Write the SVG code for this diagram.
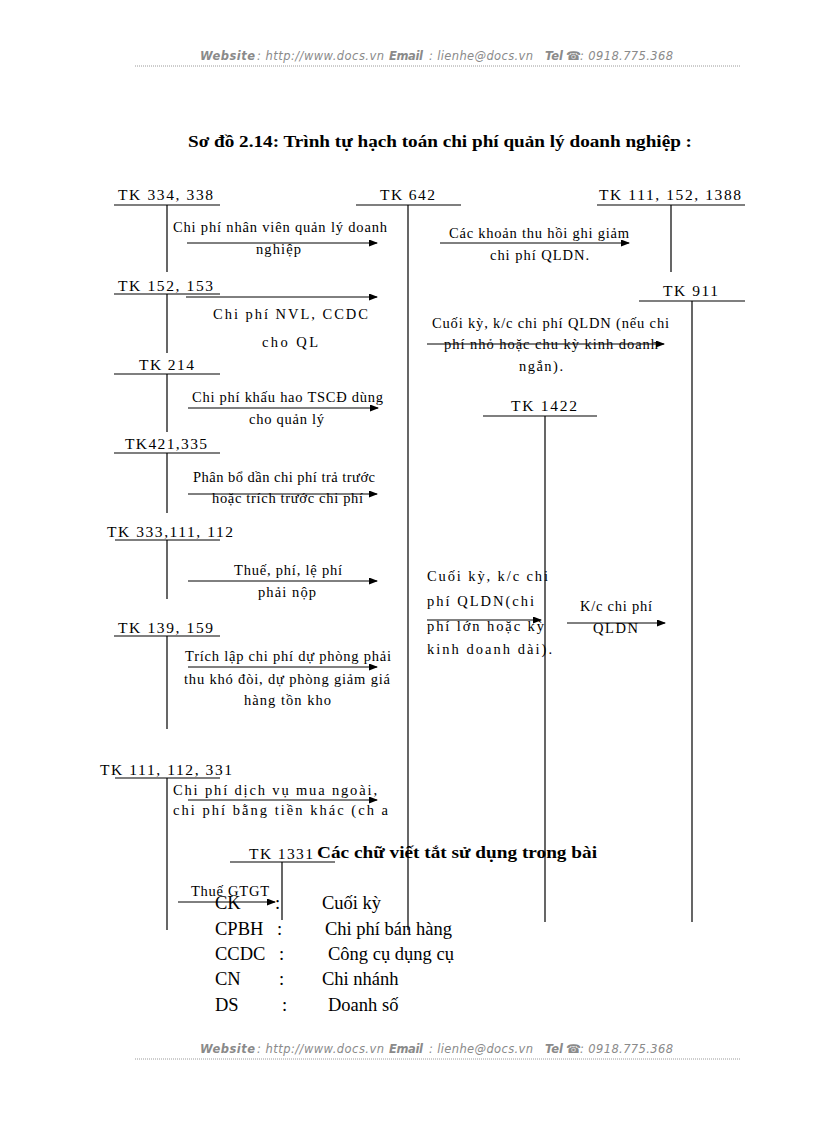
<svg xmlns="http://www.w3.org/2000/svg" width="816" height="1123" viewBox="0 0 816 1123">
<style>
.hd{font-family:"DejaVu Sans",Verdana,sans-serif;font-style:italic;font-size:11.5px;fill:#8a8a8a}
.hb{font-weight:bold}
.hl{stroke:#9a9a9a;stroke-width:1;stroke-dasharray:1 1}
.ttl{font-family:"Liberation Serif","Times New Roman",serif;font-weight:bold;font-size:17px;fill:#000}
.tk{font-family:"Liberation Serif","Times New Roman",serif;font-size:15.5px;fill:#000}
.d{font-family:"Liberation Serif","Times New Roman",serif;font-size:14.5px;fill:#000}
.lg{font-family:"Liberation Serif","Times New Roman",serif;font-size:18.5px;fill:#000}
.ln{stroke:#000;stroke-width:1.2;fill:none}
.ar{stroke:#000;stroke-width:1;fill:none;marker-end:url(#ah)}
</style>
<defs>
<marker id="ah" markerWidth="9" markerHeight="7" refX="8" refY="3.5" orient="auto" markerUnits="userSpaceOnUse">
<path d="M0,0 L9,3.5 L0,7 Z" fill="#000"/>
</marker>
</defs>
<rect width="816" height="1123" fill="#fff"/>

<g id="header">
<text class="hd" y="60"><tspan x="200" class="hb" textLength="55">Website</tspan><tspan x="257" textLength="127">: http://www.docs.vn</tspan><tspan x="389" class="hb" textLength="34">Email</tspan><tspan x="429" textLength="104">: lienhe@docs.vn</tspan><tspan x="545" class="hb" textLength="18">Tel</tspan><tspan x="566" style="font-style:normal;font-size:12px">☎</tspan><tspan x="580" textLength="93">: 0918.775.368</tspan></text>
<line class="hl" x1="135" y1="66" x2="741" y2="66"/>
</g>
<g id="footer">
<text class="hd" y="1053"><tspan x="200" class="hb" textLength="55">Website</tspan><tspan x="257" textLength="127">: http://www.docs.vn</tspan><tspan x="389" class="hb" textLength="34">Email</tspan><tspan x="429" textLength="104">: lienhe@docs.vn</tspan><tspan x="545" class="hb" textLength="18">Tel</tspan><tspan x="566" style="font-style:normal;font-size:12px">☎</tspan><tspan x="580" textLength="93">: 0918.775.368</tspan></text>
<line class="hl" x1="135" y1="1059" x2="741" y2="1059"/>
</g>

<text id="title" class="ttl" x="188" y="147" textLength="504" lengthAdjust="spacingAndGlyphs">Sơ đồ 2.14: Trình tự hạch toán chi phí quản lý doanh nghiệp :</text>

<g id="tk334">
<text class="tk" x="118" y="200" textLength="95">TK 334, 338</text>
<line class="ln" x1="114" y1="205" x2="220" y2="205"/>
<line class="ln" x1="167" y1="205" x2="167" y2="272"/>
</g>
<g id="tk642">
<text class="tk" x="380" y="200" textLength="55">TK 642</text>
<line class="ln" x1="356" y1="205" x2="461" y2="205"/>
<line class="ln" x1="408" y1="205" x2="408" y2="930"/>
</g>
<g id="tk111_152">
<text class="tk" x="599" y="200" textLength="142">TK 111, 152, 1388</text>
<line class="ln" x1="597" y1="205" x2="745" y2="205"/>
<line class="ln" x1="671" y1="205" x2="671" y2="272"/>
</g>
<g id="tk152">
<text class="tk" x="118" y="291" textLength="95">TK 152, 153</text>
<line class="ln" x1="114" y1="294" x2="220" y2="294"/>
<line class="ln" x1="167" y1="294" x2="167" y2="353"/>
</g>
<g id="tk911">
<text class="tk" x="663" y="296" textLength="55">TK 911</text>
<line class="ln" x1="639" y1="301" x2="745" y2="301"/>
<line class="ln" x1="692" y1="301" x2="692" y2="922"/>
</g>
<g id="tk214">
<text class="tk" x="139" y="370" textLength="55">TK 214</text>
<line class="ln" x1="114" y1="374" x2="220" y2="374"/>
<line class="ln" x1="167" y1="374" x2="167" y2="432"/>
</g>
<g id="tk1422">
<text class="tk" x="511" y="411" textLength="66">TK 1422</text>
<line class="ln" x1="483" y1="416" x2="597" y2="416"/>
<line class="ln" x1="545" y1="416" x2="545" y2="922"/>
</g>
<g id="tk421">
<text class="tk" x="125" y="449" textLength="82">TK421,335</text>
<line class="ln" x1="114" y1="453" x2="220" y2="453"/>
<line class="ln" x1="167" y1="453" x2="167" y2="513"/>
</g>
<g id="tk333">
<text class="tk" x="107" y="537" textLength="126">TK 333,111, 112</text>
<line class="ln" x1="115" y1="540" x2="220" y2="540"/>
<line class="ln" x1="167" y1="540" x2="167" y2="599"/>
</g>
<g id="tk139">
<text class="tk" x="118" y="633" textLength="95">TK 139, 159</text>
<line class="ln" x1="114" y1="636" x2="220" y2="636"/>
<line class="ln" x1="167" y1="636" x2="167" y2="729"/>
</g>
<g id="tk111_112">
<text class="tk" x="100" y="775" textLength="132">TK 111, 112, 331</text>
<line class="ln" x1="115" y1="778" x2="220" y2="778"/>
<line class="ln" x1="167" y1="778" x2="167" y2="930"/>
</g>
<g id="tk1331">
<text class="tk" x="249" y="859" textLength="64">TK 1331</text>
<line class="ln" x1="230" y1="862" x2="335" y2="862"/>
<line class="ln" x1="282" y1="862" x2="282" y2="920"/>
</g>

<g id="connectors">
<line class="ar" x1="187" y1="243" x2="377" y2="243"/>
<line class="ar" x1="186" y1="297" x2="377" y2="297"/>
<line class="ar" x1="440" y1="243" x2="629" y2="243"/>
<line class="ar" x1="427" y1="344" x2="664" y2="344"/>
<line class="ar" x1="188" y1="408" x2="378" y2="408"/>
<line class="ar" x1="188" y1="494" x2="377" y2="494"/>
<line class="ar" x1="188" y1="581" x2="377" y2="581"/>
<line class="ar" x1="188" y1="667" x2="377" y2="667"/>
<line class="ar" x1="427" y1="620" x2="541" y2="620"/>
<line class="ar" x1="567" y1="623" x2="665" y2="623"/>
<line class="ar" x1="188" y1="800" x2="377" y2="800"/>
<line class="ar" x1="178" y1="902" x2="275" y2="902"/>
</g>

<g id="labels">
<text class="d" x="173" y="232" textLength="214">Chi phí nhân viên quản lý doanh</text>
<text class="d" x="256" y="254" textLength="45">nghiệp</text>
<text class="d" x="213" y="319" textLength="155">Chi phí NVL, CCDC</text>
<text class="d" x="262" y="347" textLength="56">cho QL</text>
<text class="d" x="449" y="238" textLength="180">Các khoản thu hồi ghi giảm</text>
<text class="d" x="490" y="260" textLength="99">chi phí QLDN.</text>
<text class="d" x="432" y="328" textLength="237">Cuối kỳ, k/c chi phí QLDN (nếu chi</text>
<text class="d" x="444" y="349" textLength="214">phí nhỏ hoặc chu kỳ kinh doanh</text>
<text class="d" x="519" y="371" textLength="44">ngắn).</text>
<text class="d" x="192" y="402" textLength="191">Chi phí khấu hao TSCĐ dùng</text>
<text class="d" x="249" y="424" textLength="75">cho quản lý</text>
<text class="d" x="193" y="482" textLength="182">Phân bổ dần chi phí trả trước</text>
<text class="d" x="212" y="503" textLength="151">hoặc trích trước   chi phí</text>
<text class="d" x="234" y="575" textLength="108">Thuế, phí, lệ phí</text>
<text class="d" x="258" y="597" textLength="58">phải nộp</text>
<text class="d" x="185" y="661" textLength="206">Trích lập chi phí dự phòng phải</text>
<text class="d" x="184" y="684" textLength="206">thu khó đòi, dự phòng giảm giá</text>
<text class="d" x="244" y="705" textLength="87">hàng tồn kho</text>
<text class="d" x="427" y="581" textLength="121">Cuối kỳ, k/c chi</text>
<text class="d" x="427" y="606" textLength="107">phí QLDN(chi</text>
<text class="d" x="427" y="631" textLength="117">phí lớn hoặc kỳ</text>
<text class="d" x="427" y="654" textLength="125">kinh doanh dài).</text>
<text class="d" x="580" y="611" textLength="72">K/c chi phí</text>
<text class="d" x="593" y="633" textLength="45">QLDN</text>
<text class="d" x="173" y="795" textLength="204">Chi phí dịch vụ mua ngoài,</text>
<text class="d" x="173" y="815" textLength="215">chi phí bằng tiền khác (ch  a</text>
<text class="d" x="191" y="896" textLength="78">Thuế GTGT</text>
</g>

<g id="legend">
<text class="ttl" x="317" y="858" textLength="280" lengthAdjust="spacingAndGlyphs">Các chữ viết tắt sử dụng trong bài</text>
<text class="lg" x="215" y="909">CK</text><text class="lg" x="275" y="909">:</text><text class="lg" x="322" y="909">Cuối kỳ</text>
<text class="lg" x="215" y="935">CPBH</text><text class="lg" x="277" y="935">:</text><text class="lg" x="325" y="935">Chi phí bán hàng</text>
<text class="lg" x="215" y="960">CCDC</text><text class="lg" x="279" y="960">:</text><text class="lg" x="328" y="960">Công cụ dụng cụ</text>
<text class="lg" x="215" y="985">CN</text><text class="lg" x="279" y="985">:</text><text class="lg" x="322" y="985">Chi nhánh</text>
<text class="lg" x="215" y="1011">DS</text><text class="lg" x="282" y="1011">:</text><text class="lg" x="328" y="1011">Doanh số</text>
</g>
</svg>
